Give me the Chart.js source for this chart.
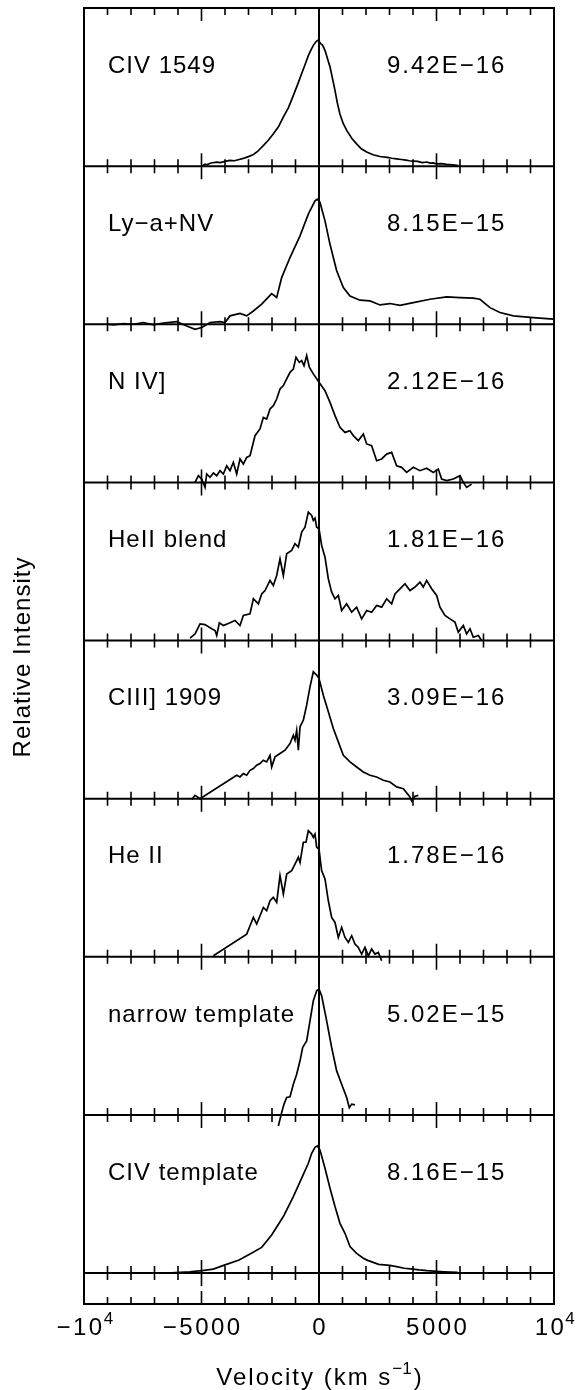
<!DOCTYPE html>
<html><head><meta charset="utf-8">
<script src="https://cdn.jsdelivr.net/npm/chart.js@4.4.0/dist/chart.umd.min.js"></script>
<style>html,body{margin:0;padding:0;background:#fff;} canvas{display:block;}</style>
</head><body>
<canvas id="c" width="577" height="1390"></canvas>
<script>
// ---- DATA ----
const panelNames = ['CIV 1549', 'Ly\u2212a+NV', 'N IV]', 'HeII blend', 'CIII] 1909', 'He II', 'narrow template', 'CIV template'];
const panelFluxes = ['9.42E\u221216', '8.15E\u221215', '2.12E\u221216', '1.81E\u221216', '3.09E\u221216', '1.78E\u221216', '5.02E\u221215', '8.16E\u221215'];

// [velocity km/s, relative intensity] for each line profile
const civ1549 = [[-4990,0],[-4850,0.012],[-4780,0.008],[-4600,0.02],[-4350,0.025],[-4200,0.022],[-4000,0.03],[-3790,0.036],[-3600,0.034],[-3400,0.042],[-3220,0.049],[-3000,0.06],[-2790,0.074],[-2600,0.095],[-2500,0.11],[-2370,0.13],[-2150,0.165],[-1940,0.205],[-1720,0.25],[-1520,0.31],[-1300,0.37],[-1090,0.447],[-900,0.52],[-740,0.584],[-600,0.64],[-450,0.70],[-340,0.735],[-240,0.764],[-140,0.785],[-70,0.795],[0,0.79],[70,0.774],[150,0.765],[255,0.732],[360,0.68],[470,0.627],[580,0.55],[680,0.479],[780,0.40],[890,0.33],[1030,0.27],[1180,0.226],[1400,0.175],[1600,0.141],[1800,0.11],[2030,0.089],[2300,0.072],[2600,0.061],[2900,0.055],[3100,0.05],[3300,0.046],[3500,0.042],[3700,0.038],[3850,0.034],[4010,0.032],[4200,0.03],[4400,0.022],[4600,0.026],[4720,0.019],[4850,0.02],[5000,0.014],[5200,0.016],[5430,0.011],[5700,0.008],[5930,0.004]];

const lyaNV = [[-9033,0],[-8749,-0.004],[-8324,0.004],[-7898,0],[-7473,0.011],[-7047,-0.004],[-6622,0.008],[-6055,0.017],[-5629,-0.011],[-5275,-0.032],[-4991,-0.021],[-4637,0.011],[-4211,0.017],[-3999,0.011],[-3786,0.053],[-3361,0.068],[-3077,0.053],[-2793,0.084],[-2439,0.127],[-2014,0.194],[-1801,0.169],[-1588,0.295],[-1234,0.422],[-808,0.559],[-454,0.696],[-170,0.781],[-71,0.791],[43,0.77],[255,0.654],[468,0.506],[752,0.338],[1035,0.232],[1319,0.179],[1744,0.152],[2170,0.148],[2595,0.122],[3020,0.131],[3446,0.12],[4013,0.137],[4722,0.158],[5431,0.173],[5998,0.169],[6565,0.165],[6849,0.158],[7274,0.105],[7700,0.074],[8267,0.053],[9118,0.042],[9969,0.032]];

const niv = [[-5275,0],[-5133,0.042],[-4991,0.021],[-4850,-0.032],[-4779,0.053],[-4637,0.032],[-4495,0.059],[-4353,0.042],[-4211,0.074],[-4070,0.053],[-3928,0.105],[-3786,0.074],[-3644,0.127],[-3503,0.053],[-3361,0.148],[-3219,0.116],[-3077,0.158],[-2935,0.169],[-2723,0.295],[-2510,0.338],[-2368,0.411],[-2226,0.401],[-2084,0.464],[-1943,0.485],[-1801,0.527],[-1659,0.591],[-1517,0.612],[-1375,0.654],[-1234,0.696],[-1092,0.717],[-978,0.791],[-837,0.759],[-737,0.77],[-638,0.738],[-525,0.802],[-411,0.728],[-241,0.686],[0,0.633],[255,0.58],[468,0.506],[681,0.422],[893,0.348],[1106,0.316],[1319,0.327],[1461,0.295],[1673,0.264],[1886,0.306],[2028,0.243],[2240,0.232],[2453,0.137],[2666,0.148],[2879,0.179],[3091,0.19],[3304,0.105],[3517,0.095],[3729,0.063],[4013,0.095],[4297,0.074],[4580,0.089],[4864,0.063],[5076,0.084],[5218,0.021],[5431,0.011],[5715,0.021],[5998,0.042],[6140,0],[6282,-0.032],[6494,-0.011]];

const heiiBlend = [[-5488,0.015],[-5275,0.042],[-5062,0.105],[-4850,0.101],[-4566,0.074],[-4424,0.063],[-4353,0.032],[-4240,0.112],[-4070,0.095],[-3786,0.112],[-3573,0.127],[-3361,0.095],[-3219,0.158],[-2935,0.169],[-2793,0.264],[-2581,0.232],[-2439,0.295],[-2297,0.316],[-2084,0.38],[-1943,0.348],[-1801,0.411],[-1659,0.517],[-1517,0.411],[-1375,0.549],[-1163,0.57],[-1021,0.612],[-879,0.591],[-737,0.686],[-596,0.717],[-454,0.812],[-312,0.791],[-241,0.759],[-170,0.774],[-99,0.717],[0,0.707],[113,0.601],[255,0.527],[397,0.39],[539,0.306],[681,0.264],[822,0.285],[964,0.19],[1177,0.232],[1390,0.179],[1602,0.211],[1815,0.137],[2028,0.19],[2240,0.179],[2453,0.222],[2666,0.211],[2879,0.264],[3091,0.232],[3233,0.295],[3446,0.327],[3658,0.359],[3871,0.316],[4084,0.338],[4297,0.369],[4438,0.338],[4580,0.38],[4793,0.327],[5006,0.285],[5147,0.211],[5360,0.158],[5573,0.137],[5785,0.116],[5927,0.053],[6140,0.095],[6282,0.042],[6424,0.074],[6565,0.021],[6778,0.032],[6920,0]];

const ciii1909 = [[-5417,-0.006],[-5275,0.021],[-5062,0],[-3503,0.148],[-3361,0.137],[-3219,0.158],[-3077,0.148],[-2935,0.179],[-2793,0.19],[-2652,0.211],[-2510,0.222],[-2368,0.243],[-2226,0.232],[-2084,0.274],[-2014,0.2],[-1872,0.264],[-1659,0.285],[-1446,0.306],[-1234,0.348],[-1092,0.401],[-1021,0.369],[-950,0.432],[-879,0.306],[-808,0.454],[-666,0.496],[-525,0.591],[-383,0.707],[-241,0.802],[-99,0.781],[0,0.759],[184,0.654],[397,0.549],[610,0.443],[822,0.359],[1035,0.274],[1319,0.232],[1602,0.2],[1886,0.169],[2170,0.148],[2453,0.137],[2737,0.116],[3020,0.105],[3304,0.074],[3588,0.063],[3871,0.011],[3942,-0.015],[4084,0.015],[4226,0.021]];

const heii = [[-4495,0.006],[-3077,0.143],[-2935,0.196],[-2793,0.249],[-2652,0.207],[-2510,0.259],[-2368,0.312],[-2226,0.291],[-2084,0.354],[-1943,0.376],[-1801,0.344],[-1659,0.513],[-1517,0.397],[-1375,0.523],[-1163,0.544],[-1021,0.586],[-879,0.629],[-808,0.597],[-666,0.724],[-553,0.724],[-454,0.797],[-312,0.776],[-241,0.755],[-170,0.776],[-99,0.692],[0,0.681],[113,0.544],[255,0.492],[397,0.354],[539,0.249],[681,0.217],[822,0.122],[964,0.186],[1106,0.122],[1248,0.091],[1390,0.133],[1531,0.08],[1673,0.059],[1815,0.017],[1957,0.059],[2099,0.006],[2240,0.049],[2382,0.017],[2524,0.027],[2666,-0.025]];

const narrowTemplate = [[-1730,-0.07],[-1588,0.015],[-1489,0.068],[-1375,0.11],[-1234,0.114],[-1092,0.194],[-950,0.257],[-808,0.342],[-695,0.426],[-596,0.451],[-525,0.468],[-383,0.595],[-241,0.722],[-99,0.785],[0,0.795],[113,0.753],[326,0.595],[539,0.426],[752,0.278],[964,0.194],[1177,0.11],[1290,0.046],[1390,0.068],[1531,0.063]];

const civTemplate = [[-6500,0],[-5500,0.008],[-4970,0.015],[-4500,0.025],[-4030,0.05],[-3400,0.082],[-2935,0.12],[-2440,0.162],[-2014,0.24],[-1517,0.357],[-1092,0.483],[-737,0.6],[-454,0.694],[-312,0.757],[-170,0.795],[-71,0.804],[43,0.778],[255,0.662],[468,0.536],[681,0.42],[893,0.314],[1106,0.251],[1319,0.167],[1600,0.124],[1886,0.093],[2070,0.08],[2540,0.055],[3010,0.048],[3300,0.04],[3630,0.03],[4000,0.025],[4260,0.02],[4600,0.015],[4890,0.012],[5300,0.008],[5900,0.004]];

const spectra = [civ1549, lyaNV, niv, heiiBlend, ciii1909, heii, narrowTemplate, civTemplate];

const xTickValues = [-10000, -5000, 0, 5000, 10000];
const xTickBase = ['\u221210', '\u22125000', '0', '5000', '10'];
const xTickSup = ['4', '', '', '', '4'];
const xMin = -10000, xMax = 10000;
const yMin = -0.196, yMax = 8;

// ---- CHART ----
const FONT = '"Liberation Sans", Arial, sans-serif';
const nP = spectra.length;

const datasets = spectra.map((s, k) => ({
  data: s.map(p => ({ x: p[0], y: p[1] + (nP - 1 - k) })),
  borderColor: '#000',
  borderWidth: 1.7,
  pointRadius: 0,
  fill: false,
  tension: 0
}));

function setFont(ctx, size, sp) {
  ctx.font = size + 'px ' + FONT;
  ctx.letterSpacing = (sp || 0) + 'px';
}

function drawSupText(ctx, base, sup, cx, y, size, supSize, supRise, sp) {
  setFont(ctx, size, sp);
  const wb = ctx.measureText(base).width;
  setFont(ctx, supSize, 0);
  const ws = sup ? ctx.measureText(sup).width : 0;
  const x0 = cx - (wb + ws - sp) / 2;
  ctx.textAlign = 'left';
  setFont(ctx, size, sp);
  ctx.fillText(base, x0, y);
  if (sup) {
    setFont(ctx, supSize, 0);
    ctx.fillText(sup, x0 + wb - 1, y - supRise);
  }
}

const decor = {
  id: 'decor',
  afterDatasetsDraw(chart) {
    const ctx = chart.ctx;
    const xs = chart.scales.x, ys = chart.scales.y;
    const L = xs.getPixelForValue(xMin), R = xs.getPixelForValue(xMax);
    const T = ys.getPixelForValue(yMax), B = ys.getPixelForValue(yMin);
    ctx.save();
    ctx.strokeStyle = '#000';
    ctx.fillStyle = '#000';
    ctx.lineCap = 'butt';
    // frame
    ctx.lineWidth = 2;
    ctx.strokeRect(L, T, R - L, B - T);
    // baselines
    for (let k = 0; k < nP; k++) {
      const y = ys.getPixelForValue(k);
      ctx.beginPath(); ctx.moveTo(L, y); ctx.lineTo(R, y); ctx.stroke();
    }
    // zero line
    const x0 = xs.getPixelForValue(0);
    ctx.beginPath(); ctx.moveTo(x0, T); ctx.lineTo(x0, B); ctx.stroke();
    // ticks
    ctx.lineWidth = 1.6;
    for (let v = xMin + 1000; v < xMax; v += 1000) {
      if (v === 0) continue;
      const major = (v % 5000 === 0);
      const x = xs.getPixelForValue(v);
      const len = major ? 13 : 7;
      ctx.beginPath();
      ctx.moveTo(x, T); ctx.lineTo(x, T + len);
      ctx.moveTo(x, B); ctx.lineTo(x, B - len);
      for (let k = 0; k < nP; k++) {
        const y = ys.getPixelForValue(k);
        ctx.moveTo(x, y - len); ctx.lineTo(x, y + len);
      }
      ctx.stroke();
    }
    // panel labels
    ctx.textBaseline = 'alphabetic';
    for (let k = 0; k < nP; k++) {
      const yb = ys.getPixelForValue(nP - 1 - k + 0.59);
      ctx.textAlign = 'left';
      setFont(ctx, 24, 1);
      ctx.fillText(panelNames[k], 108, yb);
      setFont(ctx, 24, 2);
      ctx.fillText(panelFluxes[k], 387, yb);
    }
    // tick labels
    for (let i = 0; i < xTickValues.length; i++) {
      const x = xs.getPixelForValue(xTickValues[i]);
      drawSupText(ctx, xTickBase[i], xTickSup[i], x, B + 31, 24, 17, 11, 2.5);
    }
    // x-axis title
    const t1 = 'Velocity (km s', t2 = '\u22121', t3 = ')';
    setFont(ctx, 24, 2);
    const w1 = ctx.measureText(t1).width, w3 = ctx.measureText(t3).width;
    setFont(ctx, 17, 0);
    const w2 = ctx.measureText(t2).width;
    const sx = x0 - (w1 + w2 + w3) / 2;
    const ty = B + 81;
    ctx.textAlign = 'left';
    setFont(ctx, 24, 2); ctx.fillText(t1, sx, ty);
    setFont(ctx, 17, 0); ctx.fillText(t2, sx + w1, ty - 11);
    setFont(ctx, 24, 2); ctx.fillText(t3, sx + w1 + w2 + 2, ty);
    // y-axis title
    ctx.save();
    ctx.translate(30, (T + B) / 2 + 1);
    ctx.rotate(-Math.PI / 2);
    ctx.textAlign = 'center';
    setFont(ctx, 24, 1);
    ctx.fillText('Relative Intensity', 0, 0);
    ctx.restore();
    ctx.restore();
  }
};

new Chart(document.getElementById('c'), {
  type: 'line',
  data: { datasets },
  options: {
    responsive: false,
    animation: false,
    devicePixelRatio: 1,
    events: [],
    layout: { padding: { left: 84, right: 23, top: 8, bottom: 86 } },
    scales: {
      x: { type: 'linear', min: xMin, max: xMax, display: false },
      y: { type: 'linear', min: yMin, max: yMax, display: false }
    },
    plugins: { legend: { display: false }, tooltip: { enabled: false } }
  },
  plugins: [decor]
});
</script>
</body></html>
